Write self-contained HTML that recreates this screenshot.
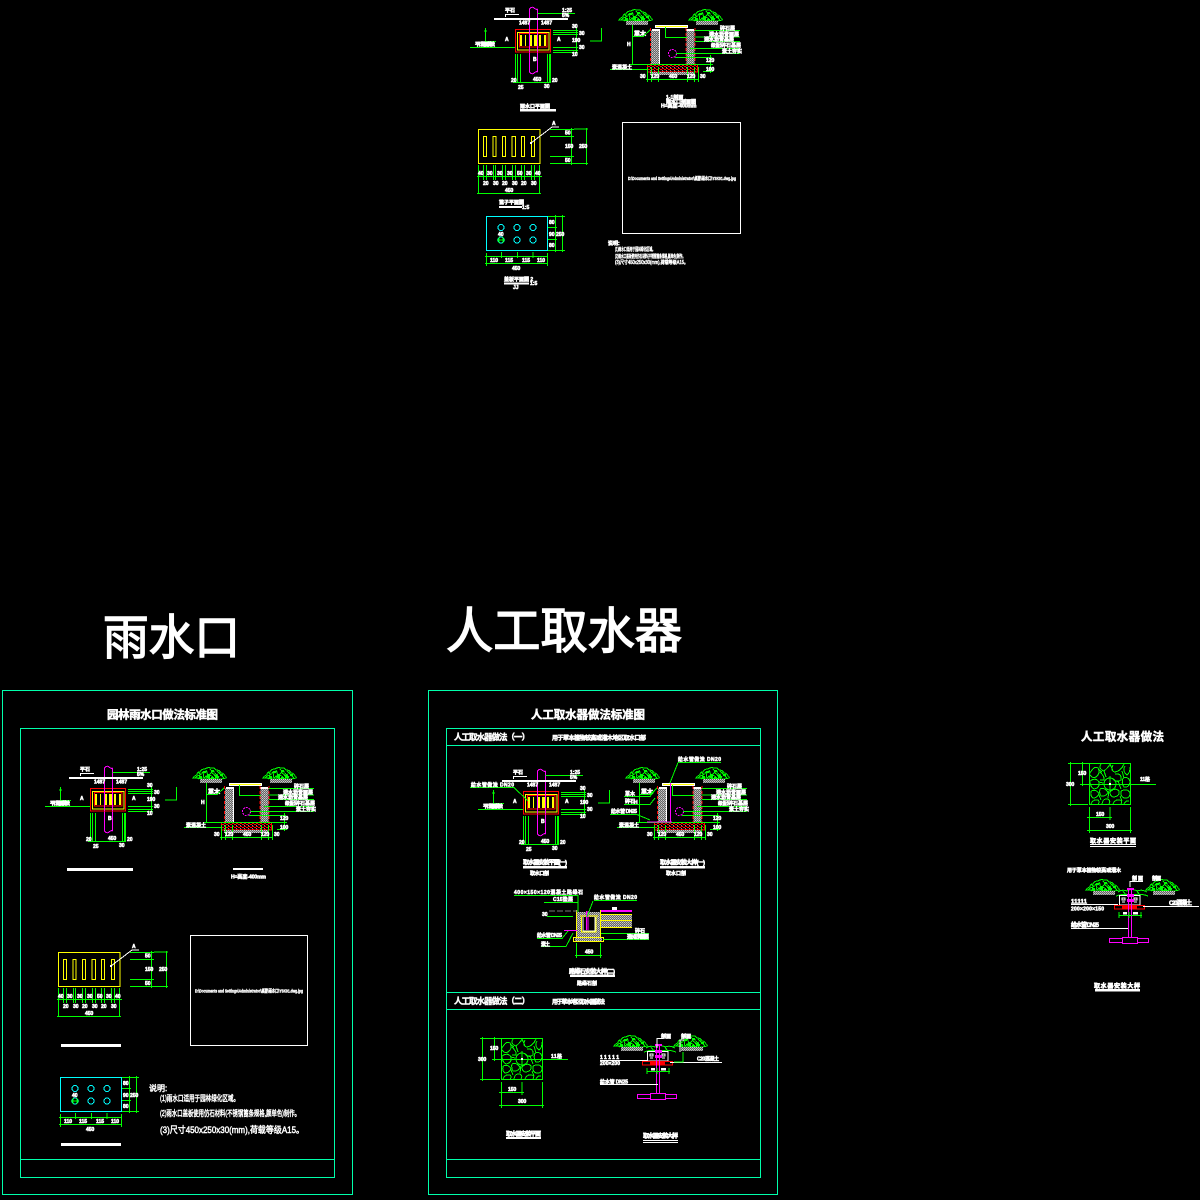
<!DOCTYPE html>
<html><head><meta charset="utf-8"><title>雨水口 人工取水器</title>
<style>
html,body{margin:0;padding:0;background:#000;width:1200px;height:1200px;overflow:hidden}
svg{display:block;shape-rendering:crispEdges}
text{font-family:"Liberation Sans","Noto Sans CJK SC",sans-serif;fill:#fff}
.d{font-size:5px;font-weight:bold;stroke:#fff;stroke-width:.55}
.s{font-size:6px;font-weight:bold;stroke:#fff;stroke-width:.6}
.m{font-size:8px;stroke:#fff;stroke-width:.5}
.h{font-size:11.5px;font-weight:bold;stroke:#fff;stroke-width:.5}
.g{fill:none;stroke:#0f0;stroke-width:1}
.w{fill:none;stroke:#fff;stroke-width:1}
.r{fill:none;stroke:#f00;stroke-width:1}
.y{fill:none;stroke:#ff0;stroke-width:1}
.c{fill:none;stroke:#0ff;stroke-width:1}
.p{fill:none;stroke:#f0f;stroke-width:1}
.f{fill:none;stroke:#00ffaa;stroke-width:1}
</style></head><body>
<svg xmlns="http://www.w3.org/2000/svg" width="1200" height="1200" viewBox="0 0 1200 1200">
<defs>
<pattern id="gh" width="2" height="2" patternUnits="userSpaceOnUse"><rect width="2" height="2" fill="#666"/><rect width="1" height="1" fill="#ccc"/><rect x="1" y="1" width="1" height="1" fill="#aaa"/></pattern>
<pattern id="rh" width="4" height="3" patternUnits="userSpaceOnUse"><rect width="4" height="3" fill="#000"/><rect x="0" y="0" width="2" height="1" fill="#f00"/><rect x="2" y="2" width="2" height="1" fill="#f00"/><rect x="2" y="1" width="1" height="1" fill="#888"/></pattern>

<g id="tree">
<path class="g" d="M0 11 Q2 8 4 8 Q4 5 7 5 Q8 2 12 2 Q14 0 18 1 Q21 0 23 3 Q27 3 28 6 Q31 6 32 9 Q34 10 33 11 Q26 13 20 11 Q12 13 6 11 Z"/>
<path class="g" d="M3 10 Q6 7 8 10 M9 5 Q12 8 10 11 M13 3 Q15 6 14 10 Q17 7 20 10 M17 2 Q19 5 22 5 M22 6 Q24 9 26 11 M26 5 Q27 8 30 9 M6 7 L9 7 M16 8 L19 5 M11 11 L15 8 M21 9 L25 7 M5 5 L8 8 M11 6 L14 4 M19 6 L23 9 M24 4 L27 7 M28 8 L31 11 M2 10 L6 12 M12 9 L17 12 M26 9 L24 12"/>
<path fill="#0f0" d="M6 9h3v3h-3zM14 7h3v4h-3zM22 8h3v3h-3zM10 4h3v2h-3zM18 3h3v2h-3zM27 7h3v2h-3zM18 10h3v2h-3z"/>
<rect x="7" y="12" width="22" height="4" fill="url(#gh)"/>
</g>

<g id="plan">
<path class="p" d="M529.300 9V72M537.700 9V72M529.300 9Q532 6 534 8T537.700 9M529.300 72Q532 75 534 73T537.700 72"/>
<path class="g" d="M537.500 13.500H575"/>
<rect x="494" y="18" width="74" height="2" fill="#fff"/>
<path class="w" d="M505.500 17V14.500H519"/>
<text class="d" x="505" y="12">平石</text>
<text class="d" x="562" y="12">1:25</text><text class="d" x="562" y="17">5%</text>
<text class="d" x="519" y="24.500">1487</text><text class="d" x="541" y="24.500">1487</text>
<rect x="515.500" y="29.500" width="35" height="22.500" class="r"/>
<rect x="517.500" y="32.500" width="31.500" height="17.500" class="y"/>
<rect x="519.500" y="33.500" width="27.500" height="13.500" class="r"/>
<path fill="#ff0" d="M520 35h2v11h-2zM525 35h1v11h-1zM530 35h2v11h-2zM534 35h3v11h-3zM539 35h2v11h-2zM544 35h2v11h-2z"/>
<path d="M529.300 29V52M537.700 29V52" class="p"/>
<path class="g" d="M553 30.500H578M553 32.500H578M553 34.500H578M553 47.500H578M553 50.500H578M553 52.500H578M576.500 28V53"/>
<path class="g" d="M485.500 28V41.500H496M484 31H487"/>
<path class="g" d="M601.500 28V41H590" stroke-width="2"/>
<path class="g" d="M470 47.500H515"/>
<text class="d" x="475" y="46" textLength="20">平石路面做法</text>
<text class="d" x="505" y="41">A</text><text class="d" x="557" y="41">A</text>
<text class="d" x="572" y="28">30</text><text class="d" x="579" y="35">30</text><text class="d" x="572" y="42">190</text><text class="d" x="579" y="49">30</text><text class="d" x="572" y="56">10</text>
<path class="g" d="M515.500 54V83M517.500 54V83M520.500 54V83M547.500 54V83M549.500 54V83M550.500 54V83M513 82.500H551"/>
<text class="d" x="533" y="61">B</text>
<text class="d" x="511" y="82">20</text><text class="d" x="533" y="81">450</text><text class="d" x="552" y="82">20</text><text class="d" x="518" y="89">25</text><text class="d" x="544" y="88">30</text>
</g>

<g id="sec">
<use href="#tree" x="619" y="9"/>
<use href="#tree" x="689" y="9"/>
<rect x="655" y="25" width="33" height="3" fill="#fff"/><rect x="656" y="26" width="31" height="1" fill="#ff0"/>
<rect x="651" y="30" width="8" height="34" fill="url(#gh)"/>
<rect x="686.500" y="30" width="8" height="34" fill="url(#gh)"/>
<rect x="652" y="29" width="8" height="2" fill="#fff"/><rect x="686" y="29" width="8" height="2" fill="#fff"/>
<path class="w" d="M659.500 30V64"/>
<path class="r" stroke-dasharray="3 2" d="M650.500 28V64M695 28V64M686 28V64"/>
<rect x="647.500" y="64.500" width="50" height="7.500" fill="url(#rh)" stroke="#f00"/>
<rect x="650" y="72" width="45" height="3" fill="url(#gh)"/>
<circle cx="672.500" cy="53.500" r="4" class="p" stroke-dasharray="2 1"/>
<path class="g" d="M695 30.500H740M695 37H740M695 41.500H740M690 48.500H740M676 53.500H740M675 57.500H712"/>
<path class="g" d="M665.500 27V37.500H687"/>
<text class="d" x="720" y="30">碎石层</text><text class="d" x="709" y="36">透水沥青面层</text><text class="d" x="704" y="41">透水沥青基层</text><text class="d" x="711" y="47">级配碎石基层</text><text class="d" x="722" y="53">素土夯实</text>
<path class="g" d="M632.500 25V64M629 64.500H713M710.500 55V73M703 71.500H713"/>
<text class="d" x="627" y="46">H</text>
<text class="s" x="634" y="36">草木</text>
<path class="g" d="M633 36.500H643L650 30"/>
<path class="g" d="M610 69.500H648"/>
<text class="d" x="612" y="69">素混凝土</text>
<path class="g" d="M646 79.500H699M647.500 67V82M651.500 67V82M658.500 67V82M687.500 67V82M694.500 67V82M698.500 67V82"/>
<text class="d" x="640" y="78">30</text><text class="d" x="651" y="78">120</text><text class="d" x="669" y="78">450</text><text class="d" x="687" y="78">120</text><text class="d" x="700" y="78">30</text>
<text class="d" x="706" y="62">120</text><text class="d" x="706" y="71">100</text>
</g>

<g id="grate">
<rect x="478.500" y="129.500" width="61.500" height="34" class="y"/>
<path class="y" d="M483.500 136.500h3v20h-3zM493 136.500h3v20h-3zM502.500 136.500h3v20h-3zM512 136.500h3.500v20h-3.500zM521.500 136.500h3v20h-3zM531.500 136.500h3v20h-3z"/>
<path class="w" d="M531 143L552 127H559"/>
<rect x="530" y="142" width="2" height="2" fill="#fff"/>
<text class="d" x="552" y="125">A</text>
<path class="g" d="M550 129.500H574M550 136.500H574M550 156.500H574M550 163.500H574M571.500 128V165M574 129H588M574 163.500H588M586.500 128V165"/>
<text class="d" x="565" y="134.500">50</text><text class="d" x="565" y="148">150</text><text class="d" x="565" y="162">50</text><text class="d" x="579" y="148">250</text>
<path class="g" d="M478.500 165V194M483.500 165V180M486.500 165V180M493.500 165V180M495.500 165V180M502.500 165V180M505.500 165V180M512.500 165V180M515.500 165V180M521.500 165V180M524.500 165V180M531.500 165V180M534.500 165V180M539.500 165V194M477 176.500H542M477 193.500H541"/>
<text class="d" x="478" y="175">40</text><text class="d" x="487" y="175">30</text><text class="d" x="497" y="175">30</text><text class="d" x="507" y="175">30</text><text class="d" x="517" y="175">50</text><text class="d" x="526" y="175">30</text><text class="d" x="535" y="175">40</text>
<text class="d" x="483" y="185">20</text><text class="d" x="493" y="185">30</text><text class="d" x="502" y="185">20</text><text class="d" x="512" y="185">30</text><text class="d" x="521" y="185">20</text><text class="d" x="531" y="185">30</text>
<text class="d" x="505" y="192">450</text>
</g>

<g id="cyan">
<rect x="486.500" y="216.500" width="61" height="34" class="c"/>
<circle cx="501" cy="227.500" r="3" class="c"/><circle cx="517" cy="227.500" r="3" class="c"/><circle cx="533" cy="227.500" r="3" class="c"/>
<circle cx="501" cy="240" r="3" class="c"/><circle cx="517" cy="240" r="3" class="c"/><circle cx="533" cy="240" r="3" class="c"/>
<path class="g" d="M497 240H505M499 237V243M503 237V243"/>
<text class="d" x="498" y="236">40</text>
<path class="g" d="M548 216.500H565M548 227.500H557M548 239.500H557M548 250.500H565M555.500 215V252M562.500 215V252"/>
<text class="d" x="549" y="224">80</text><text class="d" x="549" y="236">90</text><text class="d" x="549" y="247">80</text><text class="d" x="556" y="236">250</text>
<path class="g" d="M486.500 253V266M501.500 252V258M517.500 252V258M533 252V258M547.500 253V266M485 256.500H548M485 263.500H548"/>
<text class="d" x="490" y="262">110</text><text class="d" x="505" y="262">115</text><text class="d" x="522" y="262">115</text><text class="d" x="537" y="262">110</text>
<text class="d" x="512" y="270">450</text>
</g>

<g id="pave">
<rect x="501.500" y="1038.500" width="41" height="41" class="g"/>
<path class="g" d="M501.500 1049Q506 1040 510 1043Q513 1048 508 1052Q504 1054 501.500 1049M513 1039Q510 1044 516 1046Q520 1043 522 1039M525 1040Q522 1046 527 1047Q533 1046 536 1039M537 1041Q534 1046 539 1050Q542 1048 542 1042M502 1056Q508 1052 511 1057Q512 1063 506 1064Q502 1062 502 1056M512 1047Q517 1052 516 1055L512 1055M527 1049Q534 1048 533 1055Q528 1058 525 1054M535 1053Q541 1051 542 1057Q541 1063 536 1062Q533 1058 535 1053M503 1066Q509 1064 511 1069Q509 1073 505 1073Q502 1071 503 1066M512 1064Q516 1062 520 1067Q518 1072 513 1071Q511 1068 512 1064M522 1067Q527 1062 531 1066Q532 1071 526 1072Q522 1072 522 1067M533 1066Q540 1063 542 1068Q542 1074 536 1073Q532 1071 533 1066M503 1079Q505 1074 510 1075Q512 1077 510 1079M514 1079Q515 1073 520 1074Q523 1076 521 1079M525 1079Q527 1074 532 1075Q535 1076 533 1079M536 1079Q538 1075 541 1076M510 1044L514 1047M522 1039L525 1046M516 1046L518 1052M534 1046L536 1053M511 1057L515 1058M530 1056L533 1064M521 1066L520 1073M511 1070L513 1075M532 1071L534 1076"/>
<circle cx="522" cy="1059" r="6" class="g"/>
<path class="g" d="M522 1051V1066M492 1059.500H568"/>
<rect x="521" y="1058" width="2" height="2" fill="#fff"/>
<path class="g" d="M480 1038.500H501M480 1079.500H500M482.500 1037V1081M494.500 1037V1061M501.500 1082V1108M522 1082V1095M542.500 1082V1108M499 1092.500H524M499 1105.500H544"/>
<text class="d" x="478" y="1061">300</text><text class="d" x="490" y="1050">150</text>
<text class="d" x="508" y="1091">150</text><text class="d" x="518" y="1103">300</text>
</g>

<g id="pipe">
<use href="#tree" x="614" y="1035"/><use href="#tree" x="674" y="1035"/>
<path class="g" d="M646 1048Q650 1045 655 1047Q660 1044 665 1047Q670 1045 675 1048M644 1052Q652 1049 660 1051Q668 1049 676 1052M650 1046L654 1051M664 1046L668 1051"/>
<path class="w" d="M647.500 1051.500H668V1061H647.500Z"/>
<path class="w" d="M650 1054h3v2h-3zM662 1054h3v2h-3zM650 1058h3M662 1058h3"/>
<rect x="655" y="1044" width="7" height="2" fill="#f0f"/><rect x="655" y="1050" width="7" height="3" fill="#f0f"/><rect x="655" y="1055" width="7" height="3" fill="#f0f"/>
<rect x="642.500" y="1061.500" width="30" height="3.500" class="r"/><rect x="650" y="1062" width="15" height="3" fill="#f00"/>
<path class="p" d="M656.500 1044V1093M659.500 1044V1093"/>
<path class="g" d="M646.500 1071.500H670M647 1068V1074M657 1068V1074M669 1068V1074"/>
<rect x="651" y="1068" width="4" height="2.500" fill="#fff"/><rect x="661" y="1068" width="5" height="2.500" fill="#fff"/>
<rect x="650.500" y="1093.500" width="15" height="6" class="p"/>
<rect x="637.500" y="1094.500" width="13" height="4" class="p"/><rect x="665.500" y="1094.500" width="11" height="4" class="p"/>
</g>
</defs>

<rect width="1200" height="1200" fill="#000"/>

<!-- TOP DRAWING -->
<use href="#plan"/>
<text class="d" x="520" y="108">雨水口平面图</text><rect x="520" y="109" width="36" height="2.500" fill="#fff"/>
<use href="#sec"/>
<text class="d" x="666" y="99">1-1剖面</text><text class="d" x="666" y="103.500">雨水口剖面图</text><text class="d" x="661" y="107.500">H=高度-400mm</text>
<use href="#grate"/>
<text class="d" x="499" y="204">篦子平面图</text><rect x="499" y="206" width="23" height="2" fill="#fff"/><text class="d" x="522" y="209">1:5</text>
<use href="#cyan"/>
<text class="d" x="504" y="281">盖板平面图 2</text><rect x="504" y="282.500" width="25" height="2" fill="#fff"/><text class="d" x="530" y="285">1:5</text><text class="d" x="513" y="289">JJ</text>
<rect x="622.500" y="122.500" width="118" height="111" class="w"/>
<text x="628" y="180" font-size="4.500" font-weight="bold" textLength="108" lengthAdjust="spacingAndGlyphs" stroke="#fff" stroke-width=".4">D:\Documents and Settings\Administrator\桌面\雨水口\YSK01.dwg.jpg</text>
<text class="d" x="608" y="245">说明:</text>
<text x="615" y="251" font-size="5" textLength="40" lengthAdjust="spacingAndGlyphs" stroke="#fff" stroke-width=".5">(1)雨水口适用于园林绿化区域。</text>
<text x="615" y="258" font-size="5" textLength="70" lengthAdjust="spacingAndGlyphs" stroke="#fff" stroke-width=".5">(2)雨水口盖板使用仿石材料(不锈钢篦条规格,颜单色)制作。</text>
<text x="615" y="264" font-size="5" textLength="73" lengthAdjust="spacingAndGlyphs" stroke="#fff" stroke-width=".5">(3)尺寸450x250x30(mm),荷载等级A15。</text>

<!-- HEADINGS -->
<text x="103" y="654" font-size="48" textLength="137" lengthAdjust="spacingAndGlyphs" stroke="#fff" stroke-width="1.400">雨水口</text>
<text x="446" y="648" font-size="49" textLength="236" lengthAdjust="spacingAndGlyphs" stroke="#fff" stroke-width="1.400">人工取水器</text>

<!-- LEFT SHEET -->
<rect x="2.500" y="690.500" width="350" height="504" class="f"/>
<rect x="20.500" y="728.500" width="314" height="449" class="f"/>
<path class="f" d="M20 1159.500H335"/>
<text class="h" x="107" y="718.500" textLength="111">园林雨水口做法标准图</text>
<use href="#plan" transform="translate(-425,759)"/>
<rect x="67" y="868" width="66" height="3" fill="#fff"/>
<use href="#sec" transform="translate(-426,758)"/>
<rect x="233" y="868" width="30" height="2" fill="#fff"/>
<text class="d" x="231" y="878.500" textLength="35">H=高度-400mm</text>
<use href="#grate" transform="translate(-420,823)"/>
<rect x="61" y="1044" width="60" height="3" fill="#fff"/>
<use href="#cyan" transform="translate(-426,861)"/>
<rect x="61" y="1143" width="60" height="3" fill="#fff"/>
<rect x="190.500" y="935.500" width="117" height="110" class="w"/>
<text x="195" y="992.500" font-size="4.500" font-weight="bold" textLength="108" lengthAdjust="spacingAndGlyphs" stroke="#fff" stroke-width=".4">D:\Documents and Settings\Administrator\桌面\雨水口\YSK01.dwg.jpg</text>
<text class="m" x="149" y="1091">说明:</text>
<text class="m" x="160" y="1101" textLength="79" lengthAdjust="spacingAndGlyphs">(1)雨水口适用于园林绿化区域。</text>
<text class="m" x="160" y="1116" textLength="140" lengthAdjust="spacingAndGlyphs">(2)雨水口盖板使用仿石材料(不锈钢篦条规格,颜单色)制作。</text>
<text class="m" x="160" y="1133" style="font-size:9px" textLength="144" lengthAdjust="spacingAndGlyphs">(3)尺寸450x250x30(mm),荷载等级A15。</text>

<!-- MIDDLE SHEET -->
<rect x="428.500" y="690.500" width="349" height="504" class="f"/>
<rect x="446.500" y="728.500" width="314" height="449" class="f"/>
<path class="f" d="M446 745.500H761M446 992.500H761M446 1009.500H761M446 1159.500H761"/>
<text class="h" x="531" y="718.500" textLength="114">人工取水器做法标准图</text>
<text x="454" y="740" font-size="8.500" font-weight="bold" textLength="76" stroke="#fff" stroke-width=".4">人工取水器做法（一）</text>
<text x="552" y="740" font-size="6" font-weight="bold" textLength="94" stroke="#fff" stroke-width=".5">用于草本植物较高或灌木地区取水口部</text>
<text x="454" y="1004" font-size="8.500" font-weight="bold" textLength="76" stroke="#fff" stroke-width=".4">人工取水器做法（二）</text>
<text x="552" y="1004" font-size="6" font-weight="bold" textLength="53" stroke="#fff" stroke-width=".5">用于草本地区取水器做法</text>

<use href="#plan" transform="translate(8,762)"/>
<path class="g" d="M470 787.500H514L528 801"/>
<text class="d" x="471" y="786.500" textLength="43">给水管做法 DN20</text>
<use href="#sec" transform="translate(7,758)"/>
<path class="p" d="M670.500 783V822" stroke-width="2"/><path class="p" d="M647 822H672" stroke-width="2"/>
<path class="g" d="M678 762.500H721M678 762.500L670 783M624 796.500H650L655 790M624 804.500H650L655 798M610 814.500H637L650 820"/>
<text class="d" x="678" y="761" textLength="43">给水管做法 DN20</text>
<text class="d" x="625" y="795.500">草木</text><text class="d" x="625" y="803">碎石</text><text class="d" x="611" y="813" textLength="26">给水管 DN25</text>
<text class="s" x="523" y="864.500" textLength="44">取水器安装平面(一)</text><rect x="523" y="866" width="44" height="2.500" fill="#fff"/>
<text class="d" x="530" y="875" textLength="19">取水口剖</text>
<text class="s" x="660" y="864.500" textLength="45">取水器安装大样(一)</text><rect x="660" y="866" width="45" height="2.500" fill="#fff"/>
<text class="d" x="666" y="875" textLength="20">取水口剖</text>

<!-- detail -->
<rect x="577" y="912" width="23" height="26" fill="url(#gh)"/>
<rect x="601" y="914" width="31" height="6" fill="url(#gh)"/><rect x="601" y="921" width="31" height="7" fill="url(#gh)"/>
<rect x="582" y="917" width="13.500" height="15" fill="#000"/>
<path class="y" d="M576.500 910V937.500M600.500 910V937.500M581.500 917V932H596V917M580 916H598M601 914.500H632M601 920.500H632M601 927.500H632"/>
<path class="w" d="M583 917V931H595V917"/>
<rect x="573.500" y="937.500" width="30" height="4" class="y"/>
<rect x="575" y="938" width="27" height="3" fill="url(#gh)"/>
<rect x="601" y="910" width="31" height="2" fill="#f0f"/>
<path class="p" d="M586.500 911V930M588 911V930M564 930.500H577" stroke-width="1"/>
<path d="M549 911H578" stroke="#777" stroke-dasharray="6 2"/>
<rect x="612" y="907" width="5" height="3" fill="#fff"/>
<path class="g" d="M514 895.500H578V912M544 902.500H578M594 900.500H637M593 901L587 917M547 916.500H573M537 938.500H562L568 931M541 946.500H566L573 933M601 933.500H649M603 939.500H649M576.500 943V958M600.500 943V958M575 955.500H602"/>
<text class="d" x="514" y="894" textLength="69">400×150×120混凝土路缘石</text>
<text class="d" x="553" y="901" textLength="20">C15垫层</text>
<text class="d" x="594" y="899" textLength="43">给水管做法 DN20</text>
<text class="d" x="542" y="916">30</text>
<text class="d" x="537" y="937" textLength="25">给水管 DN25</text>
<text class="d" x="541" y="946" textLength="9">素土</text>
<text class="d" x="635" y="932.500">碎石</text><text class="d" x="627" y="938.500" textLength="22">透水沥青基层</text>
<text class="d" x="585" y="953.500">450</text>
<text class="s" x="569" y="973.500" textLength="46">路缘石安装大样(二)</text><rect x="570" y="974.500" width="45" height="2.500" fill="#fff"/>
<text class="d" x="577" y="985" textLength="20">路缘石剖</text>

<use href="#pave"/>
<text class="d" x="551" y="1058" textLength="11">11格</text>
<text class="s" x="506" y="1136" textLength="35">取水器安装平面</text><rect x="506" y="1137" width="35" height="2" fill="#fff"/>
<use href="#pipe"/>
<path class="w" d="M657 1048V1038.500H663M680 1052V1040H684M600 1060.500H648M670 1062.500H722M600 1084.500H658"/>
<text class="d" x="661" y="1038">剖面</text><text class="d" x="681" y="1038">剖面</text>
<text class="d" x="600" y="1059" textLength="19">11111</text><text class="d" x="600" y="1065" textLength="20">200×200</text>
<text class="d" x="697" y="1060.500" textLength="22">C20混凝土</text>
<text class="d" x="600" y="1083.500" textLength="28">给水管 DN25</text>
<path class="g" d="M674 1062H683V1052"/>
<text class="s" x="643" y="1138" textLength="35">取水器安装大样</text><path class="w" d="M643 1140.500H678M643 1142.500H678"/>

<!-- RIGHT -->
<text class="h" x="1081" y="740.500" textLength="83">人工取水器做法</text>
<use href="#pave" transform="translate(588,-275)"/>
<text class="d" x="1140" y="781" textLength="10">11格</text>
<text class="s" x="1090" y="843" textLength="46">取水器安装平面</text><path class="w" d="M1090 844.500H1136M1090 846.500H1136"/>
<text class="d" x="1067" y="872" textLength="54">用于草本植物较高或灌木</text>
<use href="#pipe" transform="translate(472,-156)"/>
<path class="w" d="M1071 904.500H1118M1143 906.500H1199M1071 928.500H1128M1130 887V881.500H1143"/>
<text class="d" x="1132" y="880" textLength="11">剖面</text><text class="d" x="1152" y="880" textLength="9">剖面</text>
<text class="s" x="1071" y="903.500" textLength="16">11111</text>
<text class="d" x="1071" y="910.500" textLength="33">200×200×150</text>
<text class="s" x="1169" y="905" textLength="23">C20混凝土</text>
<text class="s" x="1071" y="927" textLength="28">给水管 DN25</text>
<text class="s" x="1094" y="988" textLength="46">取水器安装大样</text><rect x="1095" y="989" width="45" height="2.500" fill="#fff"/>
</svg>
</body></html>
